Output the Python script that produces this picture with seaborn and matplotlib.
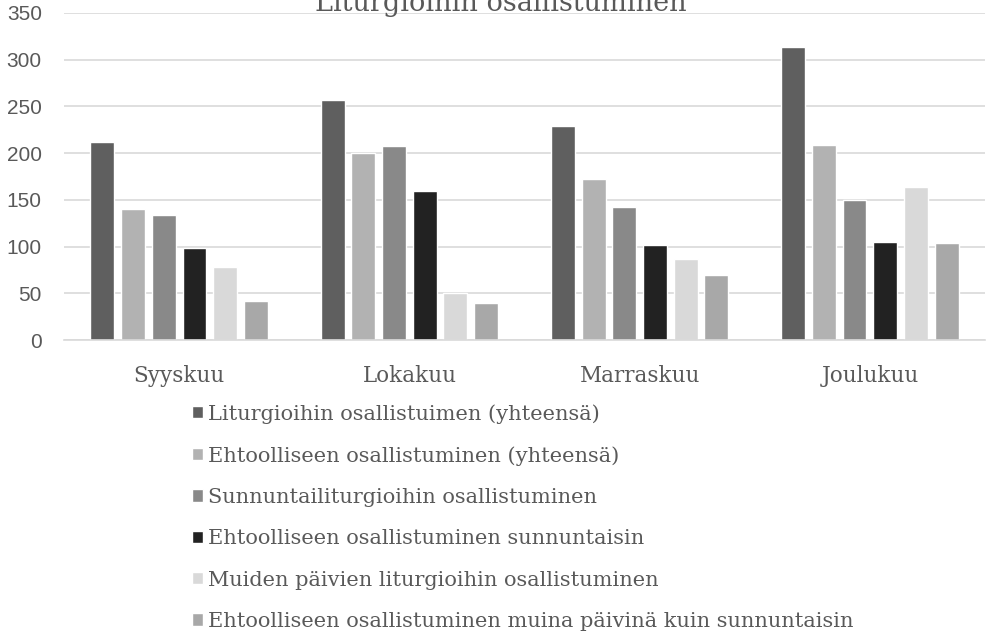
import matplotlib
matplotlib.use('Agg')
import matplotlib.pyplot as plt  # type: ignore
import pandas as pd
import seaborn as sns  # type: ignore

sns.set_style('white')

TITLE = 'Liturgioihin osallistuminen'

months = ['Syyskuu', 'Lokakuu', 'Marraskuu', 'Joulukuu']

series_names = [
    'Liturgioihin osallistuimen (yhteensä)',
    'Ehtoolliseen osallistuminen (yhteensä)',
    'Sunnuntailiturgioihin osallistuminen',
    'Ehtoolliseen osallistuminen sunnuntaisin',
    'Muiden päivien liturgioihin osallistuminen',
    'Ehtoolliseen osallistuminen muina päivinä kuin sunnuntaisin',
]

liturgia_total = [212, 257, 229, 314]
ehtoollinen_total = [140, 200, 172, 209]
sunnuntai_liturgia = [134, 208, 142, 150]
sunnuntai_ehtoollinen = [98, 160, 102, 105]
muut_liturgia = [78, 50, 87, 164]
muut_ehtoollinen = [42, 40, 70, 104]

colors = ['#5f5f5f', '#b2b2b2', '#898989', '#222222', '#d9d9d9', '#a8a8a8']

all_values = [liturgia_total, ehtoollinen_total, sunnuntai_liturgia,
              sunnuntai_ehtoollinen, muut_liturgia, muut_ehtoollinen]

rows = []
for name, vals in zip(series_names, all_values):
    for m, v in zip(months, vals):
        rows.append({'kuukausi': m, 'sarja': name, 'arvo': v})
df = pd.DataFrame(rows)

text_col = '#595959'
serif = ['DejaVu Serif']

fig = plt.figure(figsize=(9.91, 6.31), dpi=100)
ax = fig.add_axes([64 / 991, 1 - 340 / 631, 921 / 991, 327 / 631])

sns.barplot(data=df, x='kuukausi', y='arvo', hue='sarja',
            order=months, hue_order=series_names, palette=colors,
            width=0.8, gap=0.22, saturation=1, ax=ax, legend=True)

ax.set_ylim(0, 350)
ax.set_yticks(range(0, 351, 50))
ax.set_xlim(-0.5, 3.5)
ax.set_xlabel('')
ax.set_ylabel('')
ax.yaxis.grid(True, color='#d9d9d9', linewidth=1.2)
ax.set_axisbelow(True)
for s in ['left', 'right', 'top']:
    ax.spines[s].set_visible(False)
ax.spines['bottom'].set_color('#d9d9d9')
ax.spines['bottom'].set_linewidth(1.2)

ax.tick_params(axis='y', length=0, pad=16, labelsize=15, labelcolor=text_col)
ax.tick_params(axis='x', length=0, pad=18, labelsize=15.5, labelcolor=text_col)
for lab in ax.get_yticklabels():
    lab.set_family('Liberation Sans')
for lab in ax.get_xticklabels():
    lab.set_family(serif)

handles, labels = ax.get_legend_handles_labels()
ax.get_legend().remove()
fig.legend(handles, labels, loc='upper left', bbox_to_anchor=(192 / 991, 1 - 404 / 631),
           frameon=False, borderpad=0, borderaxespad=0,
           handlelength=0.53, handleheight=0.53, handletextpad=0.25,
           labelspacing=1.07, prop={'family': serif, 'size': 15},
           labelcolor=text_col)

fig.text(501 / 991, 1 - 11 / 631, TITLE, ha='center', va='baseline',
         fontsize=19.5, color=text_col, family=serif)

fig.savefig('out.png', dpi=100)
